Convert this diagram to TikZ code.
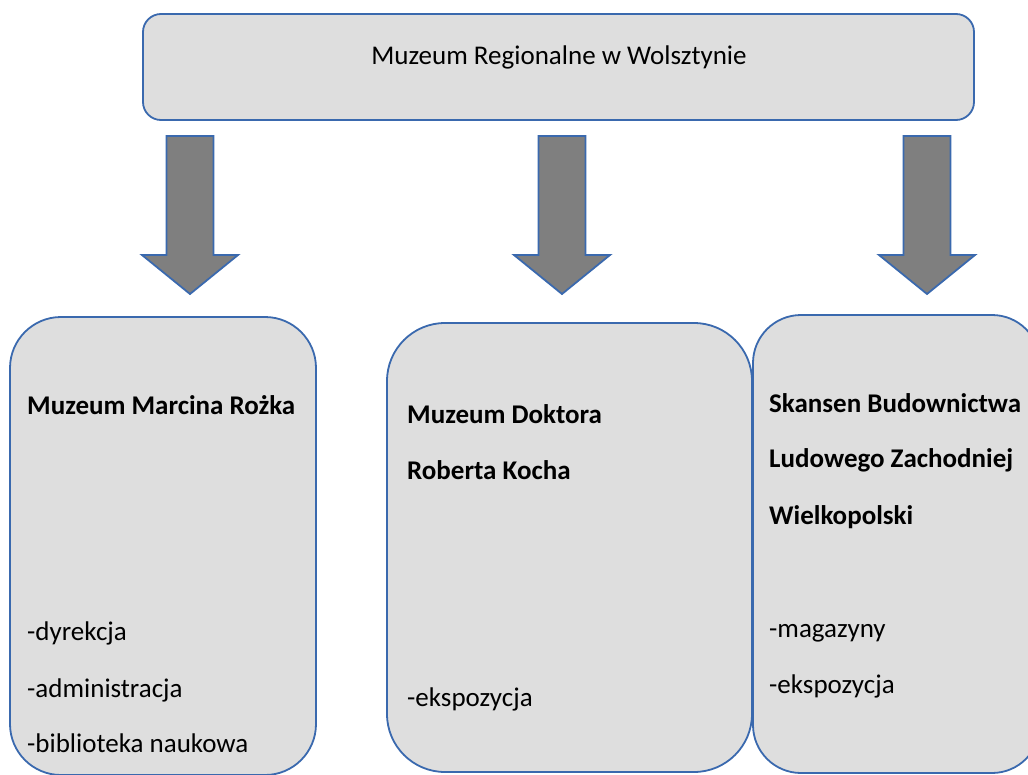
\documentclass[tikz,border=0pt]{standalone}
\usepackage{fontspec}
\setmainfont{Carlito}
\definecolor{boxfill}{HTML}{DEDEDE}
\definecolor{boxline}{HTML}{3A69AE}
\definecolor{arrfill}{HTML}{7F7F7F}
\tikzset{
  box/.style={draw=boxline, fill=boxfill, line width=1.8pt},
  blockarrow/.style={draw=boxline, fill=arrfill, line width=1.8pt, line join=miter},
  lbl/.style={anchor=base west, inner sep=0pt, font=\fontsize{27}{32}\selectfont},
  blbl/.style={lbl, font=\fontsize{27}{32}\selectfont\bfseries},
}
\begin{document}
\begin{tikzpicture}[x=1pt,y=-1pt]
\useasboundingbox (0,0) rectangle (1028,774);
\clip (0,0) rectangle (1028,774);
% top box
\draw[box, rounded corners=18pt] (143,14) rectangle (974,120);
\node[anchor=base, inner sep=0pt, font=\fontsize{27}{32}\selectfont] (title) at (559,64) {Muzeum Regionalne w Wolsztynie};
% block arrows
\foreach \cx/\nm in {190/a1, 562/a2, 927/a3}{
  \draw[blockarrow] (\cx-23.5,136) -- (\cx+23.5,136) -- (\cx+23.5,255) -- (\cx+48,255)
     -- (\cx,294) -- (\cx-48,255) -- (\cx-23.5,255) -- cycle;
}
% lower boxes
\draw[box, rounded corners=51pt] (10,317) rectangle (316,775);
\draw[box, rounded corners=58pt] (387,323) rectangle (752,772);
\draw[box, rounded corners=48pt] (753,315) rectangle (1040,773);
% box 1 texts
\node[blbl] (b1t) at (27,414) {Muzeum Marcina Rożka};
\node[lbl] (b1a) at (27,640) {-dyrekcja};
\node[lbl] (b1b) at (27,697) {-administracja};
\node[lbl] (b1c) at (27,752) {-biblioteka naukowa};
% box 2 texts
\node[blbl] (b2t) at (407,423) {Muzeum Doktora};
\node[blbl] (b2u) at (407,479) {Roberta Kocha};
\node[lbl] (b2a) at (407,706) {-ekspozycja};
% box 3 texts
\node[blbl] (b3t) at (769,412) {Skansen Budownictwa};
\node[blbl] (b3u) at (769,467) {Ludowego Zachodniej};
\node[blbl] (b3v) at (769,524) {Wielkopolski};
\node[lbl] (b3a) at (769,637) {-magazyny};
\node[lbl] (b3b) at (769,693) {-ekspozycja};
\end{tikzpicture}
\end{document}
